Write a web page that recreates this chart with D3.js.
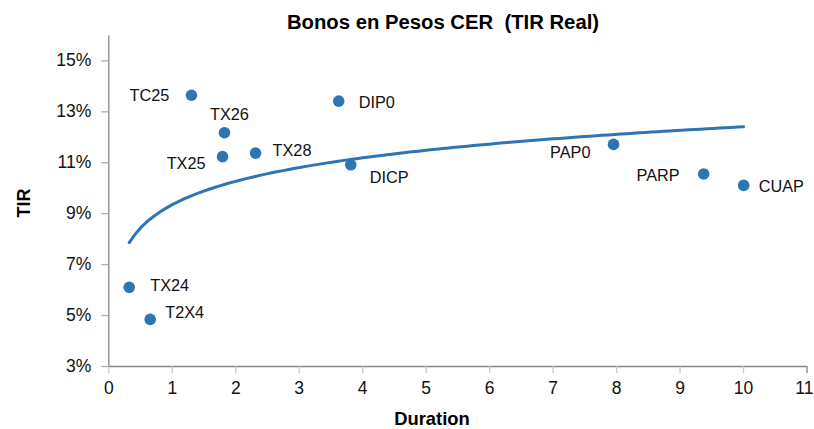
<!DOCTYPE html>
<html>
<head>
<meta charset="utf-8">
<script src="https://cdn.jsdelivr.net/npm/d3@7"></script>
<style>
  html, body { margin: 0; padding: 0; background: #fff; }
  svg { display: block; font-family: "Liberation Sans", Arial, Helvetica, sans-serif; }
</style>
</head>
<body>
<svg id="chart" width="814" height="429"></svg>
<script>
// ---- Data ----
const bonds     = ["TX24", "T2X4", "TC25", "TX26", "TX25", "TX28", "DIP0", "DICP", "PAP0", "PARP", "CUAP"];
const duration  = [0.33, 0.66, 1.31, 1.83, 1.80, 2.32, 3.63, 3.82, 7.96, 9.38, 10.01];
const tir       = [6.09, 4.83, 13.63, 12.16, 11.22, 11.36, 13.40, 10.90, 11.70, 10.54, 10.09];
const xTicks    = [0, 1, 2, 3, 4, 5, 6, 7, 8, 9, 10, 11];
const yTicks    = [3, 5, 7, 9, 11, 13, 15];
const title     = "Bonos en Pesos CER  (TIR Real)";
const xTitle    = "Duration";
const yTitle    = "TIR";

// ---- Layout ----
const blue = "#2e75b6";
const axisGrey = "#868686";
const svg = d3.select("#chart");
const x = d3.scaleLinear().domain([0, 11]).range([108.3, 806.5]);
const y = d3.scaleLinear().domain([3, 16]).range([366, 34.9]);

// label offsets relative to each point: [dx, dy, anchor]
const labelLayout = {
  TX24: [21, 4, "start"],
  T2X4: [15, -1, "start"],
  TC25: [-22, 6, "end"],
  TX26: [5, -13, "middle"],
  TX25: [-17, 12, "end"],
  TX28: [17, 3, "start"],
  DIP0: [20, 7, "start"],
  DICP: [19, 18, "start"],
  PAP0: [-23, 14, "end"],
  PARP: [-24, 7, "end"],
  CUAP: [15, 7, "start"]
};

// ---- Axes ----
const xAxis = svg.append("g")
  .attr("transform", `translate(0,${y(3)})`)
  .call(d3.axisBottom(x).tickValues(xTicks).tickSize(7).tickPadding(9).tickSizeOuter(0).tickFormat(d3.format("d")));
const yAxis = svg.append("g")
  .attr("transform", `translate(${x(0)},0)`)
  .call(d3.axisLeft(y).tickValues(yTicks).tickSize(7).tickPadding(10).tickSizeOuter(0).tickFormat(d => d + "%"));

[xAxis, yAxis].forEach(g => {
  g.select(".domain").attr("stroke", axisGrey).attr("stroke-width", 1.3);
  g.selectAll(".tick line").attr("stroke", "#b0b0b0").attr("stroke-width", 1.3);
  g.selectAll(".tick text")
    .attr("fill", "#111")
    .style("font-size", "17.5px")
    .style("font-family", "'Liberation Sans', Arial, sans-serif");
});
xAxis.selectAll(".tick line").attr("stroke", (d) => d === 11 ? axisGrey : "#c8c8c8");
// keep the last tick label inside the picture
xAxis.selectAll(".tick text").filter(d => d === 11)
  .attr("text-anchor", "end").attr("x", 813 - x(11));

// ---- Trendline (logarithmic least-squares fit of the data) ----
const lnx = duration.map(Math.log);
const mL = d3.mean(lnx), mY = d3.mean(tir);
const b = d3.sum(lnx, (l, i) => (l - mL) * (tir[i] - mY)) / d3.sum(lnx, l => (l - mL) ** 2);
const a = mY - b * mL;
const [xmin, xmax] = d3.extent(duration);
const trendX = d3.range(0, 101).map(i => xmin + (xmax - xmin) * i / 100);
svg.append("path")
  .datum(trendX)
  .attr("fill", "none")
  .attr("stroke", blue)
  .attr("stroke-width", 3)
  .attr("stroke-linecap", "round")
  .attr("d", d3.line().x(d => x(d)).y(d => y(a + b * Math.log(d))));

// ---- Points ----
const pts = bonds.map((n, i) => ({ name: n, dx: duration[i], ty: tir[i] }));
svg.append("g").selectAll("circle")
  .data(pts).join("circle")
  .attr("cx", d => x(d.dx))
  .attr("cy", d => y(d.ty))
  .attr("r", 5.8)
  .attr("fill", blue);

svg.append("g").selectAll("text")
  .data(pts).join("text")
  .attr("x", d => x(d.dx) + labelLayout[d.name][0])
  .attr("y", d => y(d.ty) + labelLayout[d.name][1])
  .attr("text-anchor", d => labelLayout[d.name][2])
  .style("font-size", "16.3px")
  .attr("fill", "#111")
  .text(d => d.name);

// ---- Titles ----
svg.append("text")
  .attr("x", 443).attr("y", 29)
  .attr("text-anchor", "middle")
  .attr("xml:space", "preserve")
  .style("white-space", "pre")
  .style("font-size", "20.3px").style("font-weight", "bold")
  .attr("fill", "#000")
  .text(title);

svg.append("text")
  .attr("x", 432).attr("y", 425)
  .attr("text-anchor", "middle")
  .style("font-size", "18.4px").style("font-weight", "bold")
  .attr("fill", "#000")
  .text(xTitle);

svg.append("text")
  .attr("transform", "translate(30,203) rotate(-90)")
  .attr("text-anchor", "middle")
  .style("font-size", "18px").style("font-weight", "bold")
  .attr("fill", "#000")
  .text(yTitle);
</script>
</body>
</html>
